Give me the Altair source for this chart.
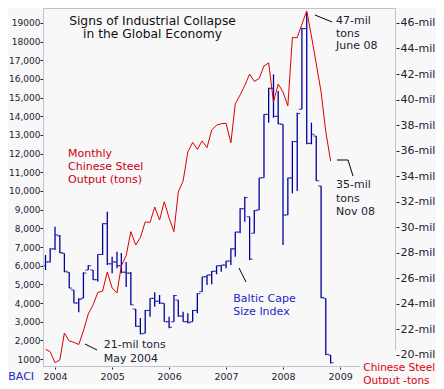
import altair as alt
import pandas as pd

# ---------------- data ----------------
months = pd.date_range("2003-11-01", periods=61, freq="MS").strftime("%Y-%m-%d").tolist()

# Chinese steel output, million tons (right axis)
steel = [20.45, 20.26, 19.40, 19.61, 21.72, 21.10, 20.99, 20.82, 21.88, 23.21,
         23.92, 24.89, 25.01, 26.50, 25.25, 24.86, 26.97, 27.79, 29.66, 28.61,
         29.20, 30.42, 30.38, 31.59, 30.57, 32.00, 30.73, 29.66, 32.76, 33.63,
         35.90, 36.64, 36.11, 36.76, 36.23, 37.62, 37.99, 38.11, 38.14, 36.62,
         39.66, 40.36, 41.10, 42.00, 41.42, 41.65, 42.63, 42.87, 39.80, 41.22,
         40.60, 39.50, 44.85, 44.85, 45.90, 46.94, 44.98, 42.79, 40.60, 37.50,
         35.19]

# Baltic Cape Size Index, monthly bars (left axis)
bci_high = [6572, 6931, 8088, 7643, 6663, 5645, 4697, 4253, 5645, 6036,
            5768, 6609, 8270, 8891, 6481, 6749, 6679, 6197, 5661, 3680,
            3198, 3626, 4253, 4574, 4429, 3985, 3267, 4429, 4162, 3535,
            3449, 3626, 4520, 5410, 5501, 5715, 5999, 6036, 6250, 6931,
            7820, 9073, 9694, 8623, 8982, 10712, 14108, 15532, 16250, 15356,
            13572, 10712, 12678, 14193, 18746, 19549, 13658, 12945, 10267, 4253,
            1216]
bci_low = [5768, 6181, 6840, 6663, 5645, 4788, 3985, 3503, 4253, 5768,
           5233, 5142, 6572, 6036, 5592, 5860, 5592, 4858, 3894, 2732,
           2325, 2378, 3267, 3803, 3947, 2999, 2646, 2999, 3267, 2999,
           2914, 2999, 3449, 4606, 4965, 5002, 5538, 5677, 5860, 6036,
           6481, 7734, 8355, 6304, 7734, 8982, 10712, 13658, 13926, 13572,
           7107, 8714, 9876, 10000, 14376, 12501, 12501, 10535, 4253, 1216,
           771]
bci_open = [6000, 6200, 6900, 7600, 6663, 5645, 4697, 4000, 4253, 5768,
            5768, 5250, 6600, 8250, 6100, 6200, 6000, 5650, 5600, 3680,
            2750, 2378, 3600, 4250, 4100, 3985, 3000, 2999, 4162, 3300,
            3000, 2999, 3600, 4606, 5410, 5500, 5700, 6000, 6030, 6250,
            6900, 7800, 9050, 8623, 7734, 8982, 10712, 14100, 15500, 14000,
            13572, 8714, 10700, 12650, 14376, 18700, 12550, 12945, 10267, 4253,
            1216]
bci_close = [6200, 6900, 7650, 6700, 5700, 4800, 4000, 4200, 5600, 6000,
             5250, 6600, 8250, 6100, 6200, 6000, 5650, 5600, 3900, 2750,
             2350, 3600, 4250, 4100, 4000, 3000, 2700, 4400, 3300, 3000,
             2950, 3600, 4500, 5400, 5500, 5700, 6000, 6030, 6250, 6900,
             7800, 9050, 9650, 6350, 8950, 10700, 14100, 15500, 14000, 13600,
             8714, 10700, 12650, 14150, 18700, 12550, 13036, 10550, 4300, 1250,
             800]

left_ticks = list(range(1000, 20000, 1000))
right_ticks = list(range(20, 48, 2))
year_ticks = list(range(2004, 2010))

df = pd.DataFrame({
    "date": months, "steel": steel,
    "high": bci_high, "low": bci_low, "open": bci_open, "close": bci_close,
})

# ---------------- styling ----------------
W, H = 353, 359
FONT = "DejaVu Sans"
BLUE = "#00009c"
RED = "#dd0000"
DARK = "#222233"
FRAME = "#c4c4c4"

x_scale = alt.Scale(type="utc", domain=[alt.DateTime(year=2003, month=10, date=16, utc=True),
                                        alt.DateTime(year=2009, month=12, date=25, utc=True)])
x_axis = alt.Axis(values=[alt.DateTime(year=y, month=1, date=1, utc=True) for y in year_ticks],
                  format="%Y", formatType="utc", tickSize=2, tickColor=DARK, domain=False,
                  grid=False, labelFont=FONT, labelFontSize=9.5, labelColor=DARK,
                  labelPadding=2, title=None)
x_enc = alt.X("date:T", scale=x_scale, axis=x_axis, title=None)

left_scale = alt.Scale(domain=[573, 19801], nice=False, zero=False)
left_axis = alt.Axis(values=left_ticks, tickSize=3, tickColor=DARK, labelPadding=0,
                     domain=False, grid=False, labelFont=FONT, labelFontSize=9,
                     labelColor=DARK, title=None,
                     labelExpr="datum.value >= 18000 || datum.value <= 1000 ? format(datum.value, 'd') : format(datum.value, ',')")
right_scale = alt.Scale(domain=[19.06, 47.17], nice=False, zero=False)
right_axis = alt.Axis(values=right_ticks, orient="right", tickSize=3, tickColor=DARK,
                      labelPadding=1, domain=False, grid=False, labelFont=FONT,
                      labelFontSize=11, labelColor=DARK, title=None,
                      labelExpr="datum.value + '-mil'")

base = alt.Chart(df)

bars = base.mark_rule(color=BLUE, strokeWidth=1.3).encode(
    x=x_enc, y=alt.Y("high:Q", scale=left_scale, axis=left_axis, title=None), y2="low:Q")
open_t = base.mark_tick(orient="horizontal", size=3, thickness=1.1, color=BLUE, xOffset=-1.5).encode(
    x=x_enc, y=alt.Y("open:Q", scale=left_scale, axis=None))
close_t = base.mark_tick(orient="horizontal", size=3, thickness=1.1, color=BLUE, xOffset=1.5).encode(
    x=x_enc, y=alt.Y("close:Q", scale=left_scale, axis=None))
line = base.mark_line(color=RED, strokeWidth=1.0).encode(
    x=x_enc, y=alt.Y("steel:Q", scale=right_scale, axis=right_axis, title=None))

one = pd.DataFrame({"k": [0]})


def rule(x, y, x2, y2, color="black"):
    return alt.Chart(one).mark_rule(color=color, strokeWidth=1).encode(
        x=alt.value(x), y=alt.value(y), x2=alt.value(x2), y2=alt.value(y2))


def label(lines, x, y, color, size=11, lh=12.8, align="left"):
    return alt.Chart(one).mark_text(text=lines, font=FONT, fontSize=size, color=color,
                                    align=align, baseline="alphabetic", lineHeight=lh).encode(
        x=alt.value(x), y=alt.value(y))


frame = [
    rule(0, 0.5, W, 0.5, FRAME),
    rule(0.5, 0, 0.5, H, FRAME),
    rule(W - 0.5, 0, W - 0.5, 342, FRAME),
    rule(0, H - 0.5, 317, H - 0.5, FRAME),
]

notes = [
    label(["Signs of Industrial Collapse", "in the Global Economy"], 109.5, 17, "#111111",
          size=12.3, lh=13.3, align="center"),
    label(["Monthly", "Chinese Steel", "Output (tons)"], 25, 149.3, "#cc0011", lh=12.7),
    label(["21-mil tons", "May 2004"], 60.7, 340.3, DARK, lh=13.4),
    rule(42, 336, 54, 342),
    label(["Baltic Cape", "Size Index"], 190.3, 293.7, "#2626c8", lh=13.3),
    rule(196, 260, 203, 274),
    label(["47-mil", "tons", "June 08"], 293, 16, DARK, lh=12.7),
    rule(272, 7, 289, 14),
    label(["35-mil", "tons", "Nov 08"], 293, 180.3, DARK, lh=13.3),
    rule(294, 152, 305, 152),
    rule(305, 152, 310, 168),
    label(["BACI"], -34.7, 372, "#2626c8"),
    label(["Chinese Steel", "Output -tons"], 320.3, 362.5, "#dd0011", size=10.5, lh=13),
]

chart = alt.layer(bars, open_t, close_t, line, *frame, *notes).resolve_scale(
    y="independent"
).properties(
    width=W, height=H,
    autosize=alt.AutoSizeParams(type="none"),
    padding={"left": 35, "top": 0, "right": 40, "bottom": 17},
    background="#f8f8f8",
).configure_view(stroke=None)

chart.save("out.html", embed_options={"renderer": "svg", "actions": False})
